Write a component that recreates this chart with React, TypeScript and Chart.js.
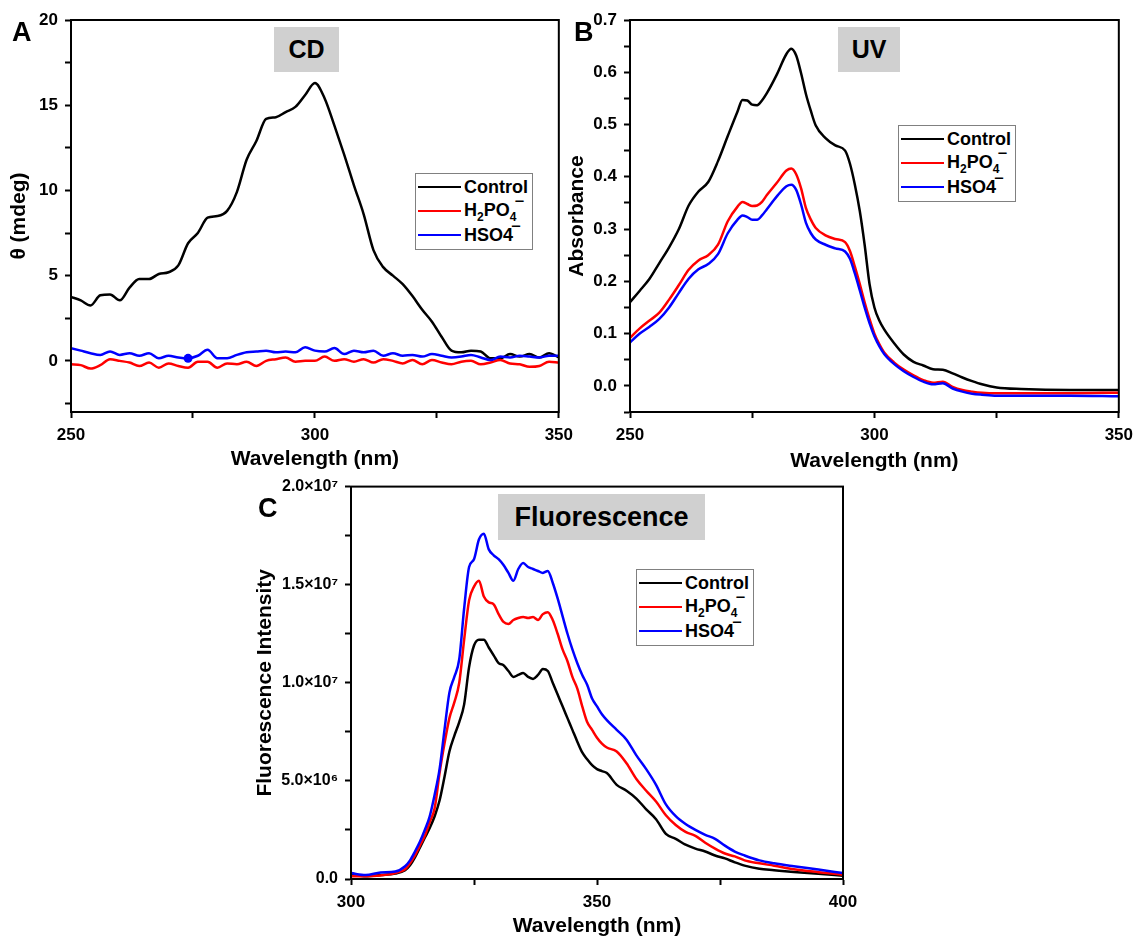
import React, { useEffect, useRef } from 'react';
import { Chart, registerables } from 'chart.js';

Chart.register(...registerables);

const FONT = '"Liberation Sans", Arial, Helvetica, sans-serif';

// ---------- Panel A: CD ----------
const cdWavelength = [250,252,254,256,258,260,262,264,266,268,270,272,274,276,278,280,282,284,286,288,290,292,294,296,298,300,302,304,306,308,310,312,314,316,318,320,322,324,326,328,330,332,334,336,338,340,342,344,346,348,350];
const cdControl = [3.75,3.55,3.25,3.85,3.9,3.55,4.3,4.8,4.8,5.1,5.2,5.6,6.9,7.5,8.4,8.5,8.8,9.9,11.8,12.9,14.2,14.3,14.6,14.9,15.6,16.3,15.4,13.8,12.1,10.3,8.6,6.5,5.5,5.0,4.5,3.8,3.0,2.3,1.4,0.6,0.5,0.6,0.55,0.15,0.15,0.4,0.25,0.4,0.2,0.45,0.2];
const cdH2PO4 = [-0.2,-0.25,-0.45,-0.25,0.1,0,-0.1,-0.3,-0.1,-0.4,-0.15,-0.3,-0.4,-0.05,-0.05,-0.4,-0.15,-0.2,-0.05,-0.3,0,0.1,0.2,-0.05,0,0,0.25,0,0.1,-0.05,0.1,-0.1,0.1,0,-0.15,0.05,-0.2,0.05,-0.1,-0.2,-0.05,0,-0.2,-0.1,0.05,-0.15,-0.2,-0.35,-0.3,-0.05,-0.1];
const cdHSO4 = [0.75,0.6,0.45,0.35,0.55,0.35,0.45,0.3,0.45,0.15,0.3,0.2,0.15,0.3,0.65,0.15,0.15,0.35,0.5,0.55,0.6,0.5,0.55,0.5,0.8,0.6,0.55,0.75,0.4,0.6,0.5,0.6,0.3,0.45,0.3,0.35,0.25,0.4,0.3,0.2,0.25,0.35,0.2,0.05,0.25,0.2,0.3,0.25,0.2,0.3,0.3];
const cdMarkerIndex = 12;
const cdXMajor = [250,300,350];
const cdXMinor = [275,325];
const cdYMajor = [0,5,10,15,20];
const cdYMinor = [-2.5,2.5,7.5,12.5,17.5];
const cdYLabels = ['0','5','10','15','20'];

// ---------- Panel B: UV ----------
const uvWavelength = [250,252,254,256,258,260,262,264,266,268,270,272,273,274,275,276,277,278,280,282,283,284,285,286,287,288,290,292,294,295,296,297,298,299,300,301,302,304,306,308,310,312,314,316,318,320,322,325,330,340,350];
const uvControl = [0.160,0.182,0.205,0.235,0.265,0.300,0.345,0.372,0.390,0.430,0.478,0.525,0.547,0.546,0.538,0.537,0.546,0.560,0.595,0.635,0.645,0.632,0.598,0.558,0.526,0.498,0.474,0.460,0.450,0.425,0.385,0.335,0.270,0.195,0.150,0.125,0.108,0.082,0.060,0.046,0.039,0.032,0.031,0.024,0.016,0.009,0.003,-0.003,-0.006,-0.008,-0.008];
const uvH2PO4 = [0.092,0.110,0.125,0.140,0.165,0.193,0.222,0.240,0.250,0.270,0.315,0.343,0.352,0.348,0.344,0.345,0.352,0.365,0.388,0.412,0.416,0.405,0.378,0.340,0.318,0.302,0.288,0.281,0.275,0.258,0.228,0.195,0.160,0.128,0.100,0.080,0.064,0.045,0.031,0.020,0.011,0.006,0.008,-0.002,-0.008,-0.011,-0.013,-0.014,-0.014,-0.014,-0.013];
const uvHSO4 = [0.083,0.100,0.113,0.128,0.150,0.178,0.205,0.223,0.233,0.252,0.292,0.318,0.326,0.323,0.318,0.318,0.326,0.338,0.362,0.382,0.385,0.375,0.347,0.312,0.292,0.280,0.270,0.263,0.257,0.243,0.215,0.183,0.150,0.120,0.095,0.076,0.061,0.042,0.028,0.017,0.008,0.003,0.005,-0.005,-0.011,-0.015,-0.017,-0.019,-0.019,-0.019,-0.020];
const uvXMajor = [250,300,350];
const uvXMinor = [275,325];
const uvYMajor = [0,0.1,0.2,0.3,0.4,0.5,0.6,0.7];
const uvYMinor = [-0.05,0.05,0.15,0.25,0.35,0.45,0.55,0.65];
const uvYLabels = ['0.0','0.1','0.2','0.3','0.4','0.5','0.6','0.7'];

// ---------- Panel C: Fluorescence (values in millions) ----------
const flWavelength = [300,303,306,309,311,312,313,314,315,316,317,318,319,320,321,322,323,324,325,326,327,328,329,330,331,332,333,334,335,336,337,338,339,340,341,342,343,344,345,346,347,348,349,350,351,352,354,356,358,360,362,364,366,368,370,372,374,376,378,380,383,386,390,395,400];
const flControl = [0.22,0.14,0.20,0.28,0.45,0.7,1.1,1.6,2.1,2.6,3.2,4.0,5.2,6.5,7.3,8.0,8.9,10.8,11.9,12.2,12.2,11.8,11.4,11.0,10.9,10.6,10.3,10.4,10.5,10.3,10.2,10.4,10.7,10.6,10.0,9.4,8.8,8.2,7.6,7.0,6.45,6.1,5.8,5.6,5.5,5.4,4.8,4.5,4.1,3.55,3.05,2.3,2.05,1.75,1.55,1.4,1.2,1.05,0.85,0.68,0.52,0.45,0.36,0.27,0.17];
const flH2PO4 = [0.14,0.14,0.18,0.3,0.5,0.8,1.2,1.7,2.2,2.9,3.6,5.4,6.9,8.2,9.0,10.0,12.2,14.2,14.9,15.2,14.4,14.1,14.0,13.5,13.1,13.0,13.2,13.3,13.35,13.3,13.35,13.2,13.5,13.6,13.2,12.5,11.7,11.1,10.3,9.7,8.8,8.0,7.6,7.2,6.9,6.7,6.5,5.9,5.1,4.5,3.95,3.25,2.75,2.4,2.2,1.85,1.55,1.3,1.15,0.95,0.8,0.68,0.5,0.35,0.22];
const flHSO4 = [0.3,0.2,0.33,0.38,0.65,0.95,1.4,1.9,2.5,3.2,4.3,5.6,7.6,9.5,10.3,11.2,13.8,15.9,16.3,17.3,17.6,16.8,16.5,16.3,16.0,15.6,15.2,15.8,16.1,15.9,15.8,15.7,15.6,15.7,15.1,14.3,13.4,12.5,11.7,11.0,10.4,9.9,9.2,8.8,8.4,8.1,7.6,7.1,6.3,5.6,4.8,3.8,3.2,2.8,2.5,2.25,2.05,1.7,1.4,1.2,0.95,0.8,0.65,0.48,0.3];
const flXMajor = [300,350,400];
const flXMinor = [325,375];
const flYMajor = [0,5,10,15,20];
const flYMinor = [2.5,7.5,12.5,17.5];
const flYLabels = ['0.0','5.0×10⁶','1.0×10⁷','1.5×10⁷','2.0×10⁷'];

const seriesNames = ['Control', 'H₂PO₄⁻', 'HSO4⁻'];
const seriesColors = ['#000000', '#ff0000', '#0000ff'];

type Spec = {
  box: { left: number; top: number; width: number; height: number };
  plot: { left: number; top: number; right: number; bottom: number };
  x: number[];
  series: number[][];
  markerIndex?: number;
  xRange: [number, number];
  yRange: [number, number];
  xMajor: number[];
  xMinor: number[];
  yMajor: number[];
  yMinor: number[];
  yLabels: string[];
  yTitle: string;
  yTickSize: number;
  xTitleBottomPad: number;
};

const framePlugin = {
  id: 'frame',
  afterDraw(chart: any) {
    const { ctx, chartArea } = chart;
    ctx.save();
    ctx.strokeStyle = '#000';
    ctx.lineWidth = 2;
    ctx.strokeRect(chartArea.left, chartArea.top, chartArea.right - chartArea.left, chartArea.bottom - chartArea.top);
    ctx.restore();
  },
};

function labelFor(value: number, major: number[], labels: string[]) {
  const i = major.findIndex((m) => Math.abs(m - value) < 1e-9);
  return i < 0 ? '' : labels[i];
}

function Panel({ spec }: { spec: Spec }) {
  const ref = useRef<HTMLCanvasElement | null>(null);
  useEffect(() => {
    const s = spec;
    const padTop = s.plot.top - s.box.top;
    const padRight = s.box.left + s.box.width - s.plot.right;
    const yW = s.plot.left - s.box.left;
    const xH = s.box.top + s.box.height - s.plot.bottom;
    const xTickFont = { family: FONT, size: 17, weight: 'bold' as const };
    const yTickFont = { family: FONT, size: s.yTickSize, weight: 'bold' as const };
    const titleFont = { family: FONT, size: 21, weight: 'bold' as const };
    const grid = { drawOnChartArea: false, drawTicks: true, tickLength: 6, tickWidth: 2, tickColor: '#000' };
    const xTicks = [...s.xMajor, ...s.xMinor].sort((a, b) => a - b);
    const yTicks = [...s.yMajor, ...s.yMinor].sort((a, b) => a - b);
    const chart = new Chart(ref.current as HTMLCanvasElement, {
      type: 'line',
      data: {
        datasets: s.series.map((vals, k) => ({
          label: seriesNames[k],
          data: s.x.map((x, i) => ({ x, y: vals[i] })),
          borderColor: seriesColors[k],
          backgroundColor: seriesColors[k],
          borderWidth: 2.5,
          pointRadius: (c: any) => (k === 2 && s.markerIndex !== undefined && c.dataIndex === s.markerIndex ? 4.5 : 0),
          pointBorderWidth: 0,
          pointHoverRadius: 0,
          cubicInterpolationMode: 'monotone' as const,
          tension: 0.4,
          fill: false,
          order: 3 - k,
        })),
      },
      options: {
        responsive: false,
        maintainAspectRatio: false,
        animation: false,
        events: [],
        layout: { padding: { top: padTop, right: padRight, left: 0, bottom: 0 } },
        plugins: { legend: { display: false }, tooltip: { enabled: false }, title: { display: false } },
        scales: {
          x: {
            type: 'linear',
            min: s.xRange[0],
            max: s.xRange[1],
            afterBuildTicks: (sc: any) => { sc.ticks = xTicks.map((v) => ({ value: v })); },
            afterFit: (sc: any) => { sc.height = xH; },
            ticks: {
              autoSkip: false, maxRotation: 0, padding: 7, color: '#000', font: xTickFont,
              callback: (v: any) => labelFor(Number(v), s.xMajor, s.xMajor.map(String)),
            },
            grid,
            border: { display: true, width: 2, color: '#000' },
            title: { display: true, text: 'Wavelength (nm)', color: '#000', font: titleFont, padding: { top: 0, bottom: s.xTitleBottomPad } },
          },
          y: {
            type: 'linear',
            min: s.yRange[0],
            max: s.yRange[1],
            afterBuildTicks: (sc: any) => { sc.ticks = yTicks.map((v) => ({ value: v })); },
            afterFit: (sc: any) => { sc.width = yW; },
            ticks: {
              autoSkip: false, padding: 7, color: '#000', font: yTickFont,
              callback: (v: any) => labelFor(Number(v), s.yMajor, s.yLabels),
            },
            grid,
            border: { display: true, width: 2, color: '#000' },
            title: { display: true, text: s.yTitle, color: '#000', font: titleFont, padding: { top: 7, bottom: 0 } },
          },
        },
      },
      plugins: [framePlugin],
    } as any);
    return () => chart.destroy();
  }, [spec]);
  const b = spec.box;
  return (
    <canvas
      ref={ref}
      width={b.width}
      height={b.height}
      style={{ position: 'absolute', left: b.left, top: b.top, width: b.width, height: b.height }}
    />
  );
}

const subStyle: React.CSSProperties = { fontSize: 12, verticalAlign: 'baseline', position: 'relative', top: 5 };
const supStyle: React.CSSProperties = { position: 'relative', top: -1 };

function LegendLabel({ index }: { index: number }) {
  if (index === 1) {
    return (
      <span>
        H<span style={subStyle}>2</span>PO<span style={subStyle}>4</span><span style={supStyle}>‾</span>
      </span>
    );
  }
  if (index === 2) {
    return (
      <span>
        HSO4<span style={supStyle}>‾</span>
      </span>
    );
  }
  return <span>{seriesNames[index]}</span>;
}

function Legend({ left, top }: { left: number; top: number }) {
  return (
    <div
      style={{
        position: 'absolute', left, top, width: 118, height: 77, boxSizing: 'border-box',
        border: '1px solid #808080', background: '#fff', fontFamily: FONT, fontWeight: 'bold',
        fontSize: 18, color: '#000', padding: '1px 0 0 2px', lineHeight: '24px',
      }}
    >
      {seriesNames.map((_, i) => (
        <div key={i} style={{ display: 'flex', alignItems: 'center', height: 24, whiteSpace: 'nowrap' }}>
          <span style={{ display: 'inline-block', width: 43, height: 2.5, background: seriesColors[i], marginRight: 3 }} />
          <LegendLabel index={i} />
        </div>
      ))}
    </div>
  );
}

function TitleBox({ left, top, width, height, text, size }: { left: number; top: number; width: number; height: number; text: string; size: number }) {
  return (
    <div
      style={{
        position: 'absolute', left, top, width, height, background: '#d0d0d0', display: 'flex',
        alignItems: 'center', justifyContent: 'center', fontFamily: FONT, fontWeight: 'bold',
        fontSize: size, color: '#000',
      }}
    >
      {text}
    </div>
  );
}

function Letter({ left, top, text }: { left: number; top: number; text: string }) {
  return (
    <div style={{ position: 'absolute', left, top, fontFamily: FONT, fontWeight: 'bold', fontSize: 27, lineHeight: '30px', color: '#000' }}>
      {text}
    </div>
  );
}

const specA: Spec = {
  box: { left: 0, top: 0, width: 580, height: 480 },
  plot: { left: 71, top: 20, right: 562, bottom: 412 },
  x: cdWavelength,
  series: [cdControl, cdH2PO4, cdHSO4],
  markerIndex: cdMarkerIndex,
  xRange: [250, 350],
  yRange: [-3, 20],
  xMajor: cdXMajor, xMinor: cdXMinor,
  yMajor: cdYMajor, yMinor: cdYMinor, yLabels: cdYLabels,
  yTitle: 'θ (mdeg)',
  yTickSize: 17,
  xTitleBottomPad: 8,
};

const specB: Spec = {
  box: { left: 558, top: 0, width: 582, height: 480 },
  plot: { left: 630, top: 20, right: 1122, bottom: 412 },
  x: uvWavelength,
  series: [uvControl, uvH2PO4, uvHSO4],
  xRange: [250, 350],
  yRange: [-0.05, 0.7],
  xMajor: uvXMajor, xMinor: uvXMinor,
  yMajor: uvYMajor, yMinor: uvYMinor, yLabels: uvYLabels,
  yTitle: 'Absorbance',
  yTickSize: 17,
  xTitleBottomPad: 6,
};

const specC: Spec = {
  box: { left: 246, top: 470, width: 620, height: 471 },
  plot: { left: 351, top: 486, right: 843, bottom: 879 },
  x: flWavelength,
  series: [flControl, flH2PO4, flHSO4],
  xRange: [300, 400],
  yRange: [0, 20],
  xMajor: flXMajor, xMinor: flXMinor,
  yMajor: flYMajor, yMinor: flYMinor, yLabels: flYLabels,
  yTitle: 'Fluorescence Intensity',
  yTickSize: 16,
  xTitleBottomPad: 2,
};

export default function App() {
  return (
    <div style={{ position: 'absolute', left: 0, top: 0, width: 1140, height: 941, overflow: 'hidden', background: '#fff' }}>
      <Panel spec={specA} />
      <Panel spec={specB} />
      <Panel spec={specC} />
      <TitleBox left={274} top={27} width={65} height={45} text="CD" size={25} />
      <TitleBox left={838} top={27} width={62} height={45} text="UV" size={25} />
      <TitleBox left={498} top={494} width={207} height={46} text="Fluorescence" size={27} />
      <Legend left={415} top={173} />
      <Legend left={898} top={125} />
      <Legend left={636} top={569} />
      <Letter left={12} top={17} text="A" />
      <Letter left={574} top={17} text="B" />
      <Letter left={258} top={493} text="C" />
    </div>
  );
}
